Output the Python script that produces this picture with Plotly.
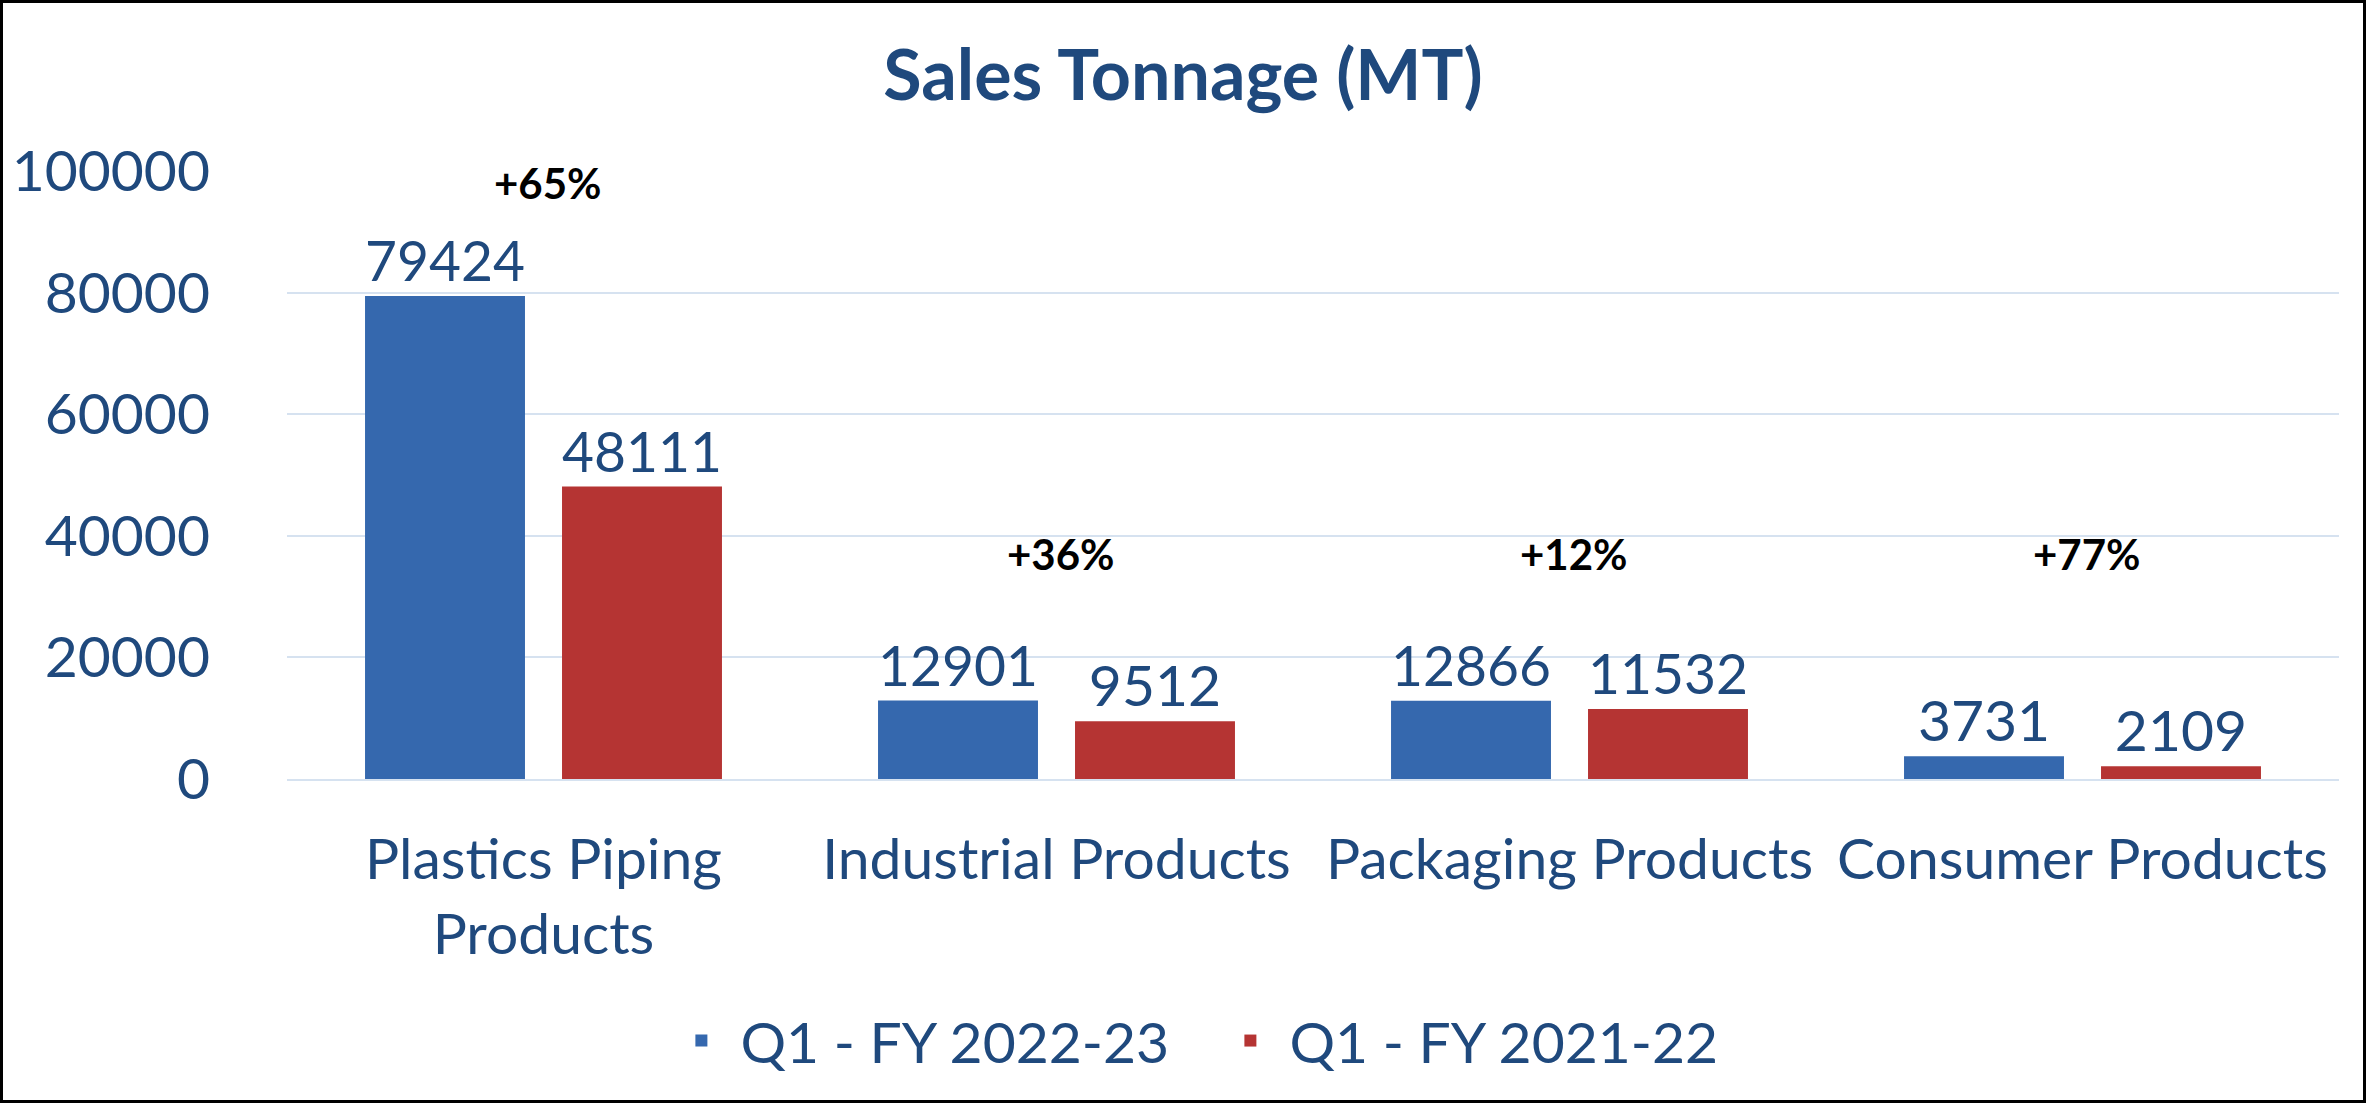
import plotly.graph_objects as go

categories = ["Plastics Piping Products", "Industrial Products", "Packaging Products", "Consumer Products"]
tick_labels = ["Plastics Piping<br>Products", "Industrial Products", "Packaging Products", "Consumer Products"]
series_names = ["Q1 - FY 2022-23", "Q1 - FY 2021-22"]
fy2223 = [79424, 12901, 12866, 3731]
fy2122 = [48111, 9512, 11532, 2109]
growth_labels = ["+65%", "+36%", "+12%", "+77%"]
y_ticks = [0, 20000, 40000, 60000, 80000, 100000]

W, H = 2366, 1103
ML, MR, MT, MB = 287, 27, 171, 324
TXT = "#1F497D"
FONT = "Lato, 'Open Sans', sans-serif"

fig = go.Figure()
fig.add_trace(go.Bar(
    name=series_names[0], x=categories, y=fy2223,
    marker=dict(color="#3568AE", line=dict(width=0)),
    text=fy2223, textposition="outside", cliponaxis=False,
    textfont=dict(color=TXT, size=57, family=FONT),
))
fig.add_trace(go.Bar(
    name=series_names[1], x=categories, y=fy2122,
    marker=dict(color="#B53433", line=dict(width=0)),
    text=fy2122, textposition="outside", cliponaxis=False,
    textfont=dict(color=TXT, size=57, family=FONT),
))

# growth annotations (y positions in data units, at category centres)
ann_y = [98000, 37000, 37000, 37000]
for cat, lab, yy in zip(categories, growth_labels, ann_y):
    fig.add_annotation(x=cat, y=yy, text="<b>%s</b>" % lab, showarrow=False,
                       xref="x", yref="y", yanchor="middle", xshift=4,
                       font=dict(color="black", size=42, family=FONT))

pw = W - ML - MR
ph = H - MT - MB
fig.add_shape(type="rect", xref="paper", yref="paper",
              x0=(1.5 - ML) / pw, x1=(W - 1.5 - ML) / pw,
              y0=(H - MB - (H - 1.5)) / ph, y1=(H - MB - 1.5) / ph,
              line=dict(color="black", width=3), fillcolor="rgba(0,0,0,0)", layer="above")

fig.update_layout(
    width=W, height=H,
    margin=dict(l=ML, r=MR, t=MT, b=MB, pad=0),
    paper_bgcolor="white", plot_bgcolor="white",
    title=dict(text="<b>Sales Tonnage (MT)</b>", x=0.5, xanchor="center", xref="container",
               y=1 - 75 / H, yanchor="middle", yref="container",
               font=dict(color=TXT, size=70, family=FONT)),
    barmode="group", bargap=0.232, bargroupgap=0.188,
    font=dict(family=FONT, color=TXT, size=57),
    legend=dict(orientation="h", xref="container", yref="container",
                x=0.512, xanchor="center", y=1 - 1041 / H, yanchor="middle",
                font=dict(color=TXT, size=57, family=FONT), itemwidth=68,
                entrywidth=466, entrywidthmode="pixels",
                bgcolor="rgba(0,0,0,0)"),
    showlegend=True,
)
fig.update_yaxes(range=[0, 100000], tickvals=y_ticks, ticktext=[str(v) for v in y_ticks],
                 showgrid=True, gridcolor="#D6E2F0", gridwidth=2,
                 zeroline=False, showline=False, ticks="",
                 ticklabelstandoff=76,
                 tickfont=dict(color=TXT, size=57, family=FONT))
fig.update_xaxes(tickvals=categories, ticktext=tick_labels, showline=True, linecolor="#D6E2F0",
                 linewidth=2, ticks="", ticklabelstandoff=30,
                 tickfont=dict(color=TXT, size=57, family=FONT))

fig.write_html("out.html", config={"displayModeBar": False},
               post_script="document.body.style.margin='0px';")
